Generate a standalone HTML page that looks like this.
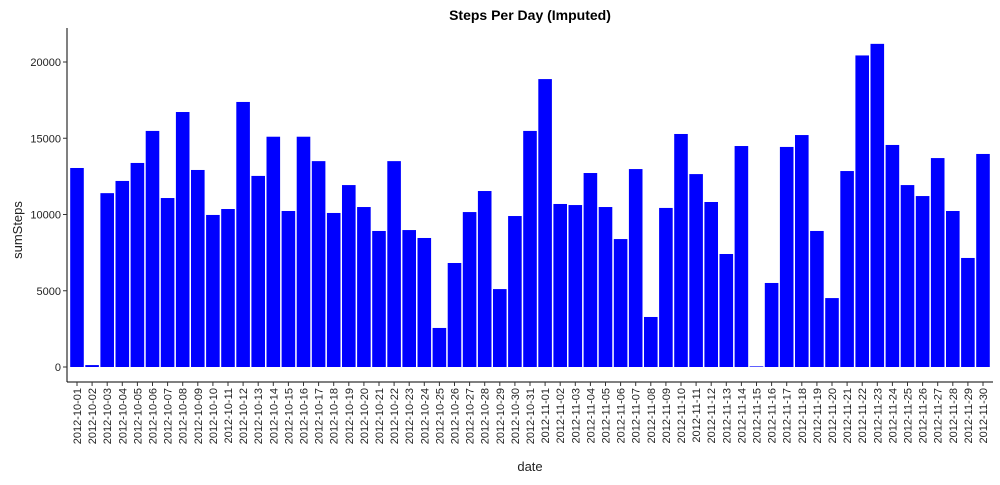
<!DOCTYPE html>
<html><head><meta charset="utf-8"><style>
body{margin:0;background:#fff;font-family:"Liberation Sans",Arial,sans-serif}
svg text{font-family:"Liberation Sans",Arial,sans-serif}
</style></head><body>
<svg id="c" width="1000" height="480" xmlns="http://www.w3.org/2000/svg">
<text x="530" y="20" text-anchor="middle" font-size="14" font-weight="bold">Steps Per Day (Imputed)</text>
<text x="530" y="471" text-anchor="middle" font-size="13" fill="#222">date</text>
<text transform="translate(22,230) rotate(-90)" text-anchor="middle" font-size="13" fill="#222">sumSteps</text>
<g id="bars"></g><g id="axes"></g>
</svg>
<script>
const categories=[];
(function(){for(let d=1;d<=31;d++)categories.push('2012-10-'+String(d).padStart(2,'0'));for(let d=1;d<=30;d++)categories.push('2012-11-'+String(d).padStart(2,'0'));})();
const sumSteps=[13050,126,11400,12200,13380,15480,11080,16720,12920,9970,10360,17380,12530,15100,10230,15100,13500,10100,11930,10490,8920,13500,8980,8460,2560,6820,10160,11540,5110,9900,15480,18880,10690,10620,12720,10490,8390,12980,3280,10430,15280,12650,10820,7410,14490,41,5510,14430,15210,8920,4520,12850,20430,21190,14560,11930,11210,13700,10230,7150,13970];
const yTicks=[0,5000,10000,15000,20000];
const NS='http://www.w3.org/2000/svg';
const x0=67,x1=993,y0=367,pxPer=305/20000,axisY=382;
const firstC=77,lastC=983;
const band=(lastC-firstC)/(categories.length-1);
const xC=i=>firstC+i*band;
const yPos=v=>y0-v*pxPer;
function mk(t,a,p){const e=document.createElementNS(NS,t);for(const k in a)e.setAttribute(k,a[k]);p.appendChild(e);return e;}
const bars=document.getElementById('bars'),axes=document.getElementById('axes');
const bw=band*0.9;
sumSteps.forEach((v,i)=>{
 const r=mk('rect',{x:xC(i)-bw/2,y:yPos(v),width:bw,height:y0-yPos(v),fill:'#0000ff'},bars);
 
 
});
const ya=mk('line',{x1:x0,x2:x0,y1:28,y2:axisY,stroke:'#000','stroke-width':1},axes);

const xa=mk('line',{x1:x0,x2:x1,y1:axisY,y2:axisY,stroke:'#000','stroke-width':1},axes);

yTicks.forEach(t=>{
 mk('line',{x1:x0-4,x2:x0,y1:yPos(t),y2:yPos(t),stroke:'#333'},axes);
 const tx=mk('text',{x:x0-6,y:yPos(t)+4,'text-anchor':'end','font-size':11,fill:'#222'},axes);
 tx.textContent=t;
 
});
categories.forEach((c,i)=>{
 const cx=xC(i);
 mk('line',{x1:cx,x2:cx,y1:axisY,y2:axisY+4,stroke:'#333'},axes);
 const tx=mk('text',{transform:`translate(${cx+4},${axisY+6}) rotate(-90)`,'text-anchor':'end','font-size':11,fill:'#222'},axes);
 tx.textContent=c;
 
});
</script>
</body></html>
